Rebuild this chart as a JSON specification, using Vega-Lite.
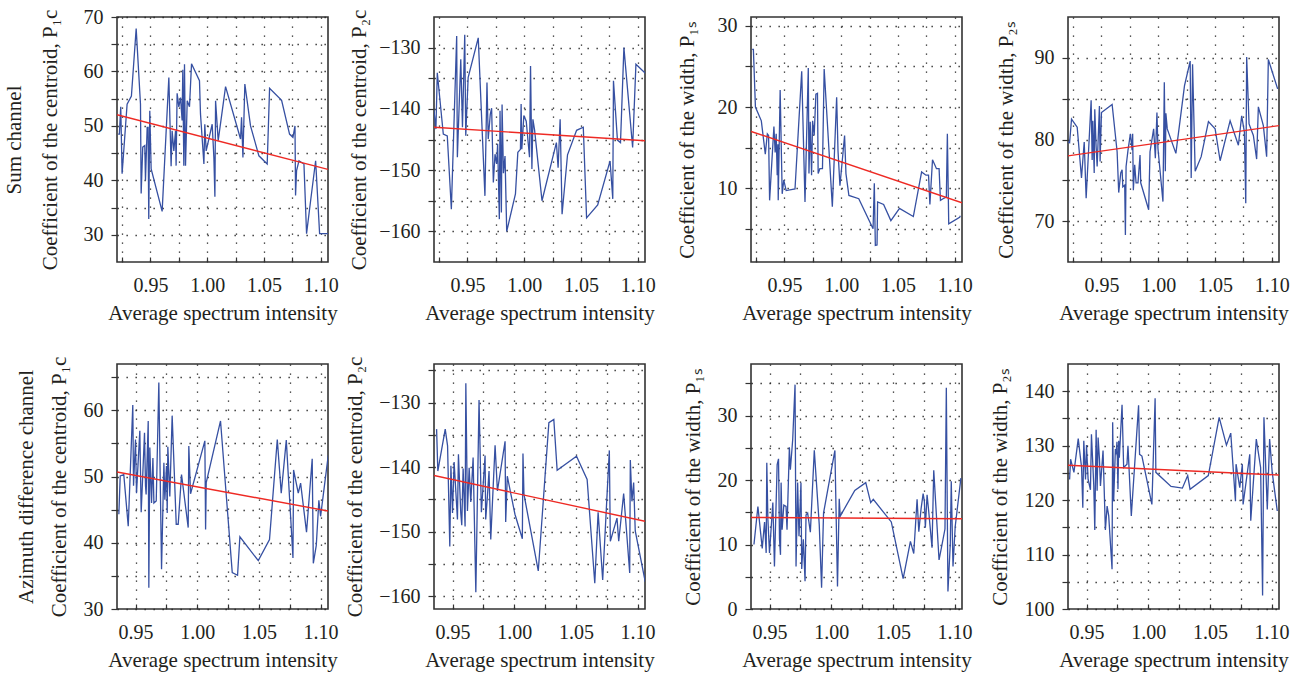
{
  "$schema": "https://vega.github.io/schema/vega-lite/v6.json",
  "padding": {"left": 2, "top": 6, "right": 10, "bottom": 6},
  "background": "white",
  "config": {
    "font": "Liberation Serif",
    "view": {"stroke": "#333333", "strokeWidth": 1.6},
    "axis": {
      "labelFont": "Liberation Serif", "titleFont": "Liberation Serif",
      "labelFontSize": 20, "titleFontSize": 21, "titleFontWeight": "normal",
      "labelColor": "#231f20", "titleColor": "#231f20",
      "domain": false, "grid": true, "gridColor": "#222222", "gridDash": [1.3, 7.7], "gridWidth": 1.3,
      "labelFlush": false, "labelOverlap": false, "tickColor": "#333333", "tickWidth": 1.2
    },
    "axisY": {"ticks": true, "tickSize": 6, "labelPadding": 8, "titleLineHeight": 36},
    "axisX": {"ticks": true, "tickSize": -5, "labelPadding": 18, "titlePadding": 7}
  },
  "datasets": {
    "p1": [{"x":0.9215,"y":48.5},{"x":0.9226,"y":48.5},{"x":0.9238,"y":53.5},{"x":0.925,"y":41.2},{"x":0.9294,"y":54.0},{"x":0.9332,"y":55.5},{"x":0.9374,"y":67.9},{"x":0.9412,"y":54.0},{"x":0.9418,"y":37.6},{"x":0.9432,"y":46.1},{"x":0.945,"y":46.4},{"x":0.9456,"y":40.0},{"x":0.9471,"y":49.7},{"x":0.9479,"y":49.7},{"x":0.9485,"y":32.9},{"x":0.9494,"y":52.8},{"x":0.9506,"y":42.1},{"x":0.9603,"y":34.3},{"x":0.9662,"y":58.9},{"x":0.9682,"y":42.6},{"x":0.9691,"y":49.1},{"x":0.9706,"y":45.4},{"x":0.9721,"y":49.1},{"x":0.9726,"y":42.7},{"x":0.9735,"y":56.0},{"x":0.975,"y":53.5},{"x":0.9765,"y":55.2},{"x":0.9779,"y":51.0},{"x":0.9785,"y":60.3},{"x":0.9794,"y":42.7},{"x":0.98,"y":61.3},{"x":0.9809,"y":42.7},{"x":0.9824,"y":54.6},{"x":0.9844,"y":53.5},{"x":0.9862,"y":61.4},{"x":0.9932,"y":58.3},{"x":0.9941,"y":52.2},{"x":0.9971,"y":43.0},{"x":0.9979,"y":50.3},{"x":0.9991,"y":45.4},{"x":1.0044,"y":50.3},{"x":1.0059,"y":44.2},{"x":1.0068,"y":37.0},{"x":1.0074,"y":54.6},{"x":1.0097,"y":47.3},{"x":1.0162,"y":57.2},{"x":1.0294,"y":47.6},{"x":1.0303,"y":51.6},{"x":1.0315,"y":44.2},{"x":1.0332,"y":57.7},{"x":1.0382,"y":50.0},{"x":1.0456,"y":44.5},{"x":1.0529,"y":43.0},{"x":1.055,"y":56.9},{"x":1.0656,"y":54.7},{"x":1.0726,"y":48.5},{"x":1.0756,"y":47.9},{"x":1.0774,"y":50.0},{"x":1.0779,"y":37.2},{"x":1.0788,"y":41.8},{"x":1.0809,"y":43.6},{"x":1.0853,"y":43.0},{"x":1.0876,"y":30.2},{"x":1.0912,"y":36.3},{"x":1.0956,"y":43.6},{"x":1.0991,"y":30.2},{"x":1.1068,"y":30.2}],
    "f1": [{"x":0.9205,"y":52.05},{"x":1.1065,"y":42.0}],
    "p2": [{"x":0.9204,"y":-140.1},{"x":0.9222,"y":-143.3},{"x":0.9234,"y":-134.1},{"x":0.9287,"y":-144.1},{"x":0.9322,"y":-144.4},{"x":0.9358,"y":-156.4},{"x":0.9405,"y":-128.1},{"x":0.9411,"y":-147.9},{"x":0.9441,"y":-131.9},{"x":0.9456,"y":-143.0},{"x":0.9476,"y":-127.9},{"x":0.9485,"y":-144.4},{"x":0.9506,"y":-134.9},{"x":0.9595,"y":-128.4},{"x":0.9654,"y":-154.2},{"x":0.9672,"y":-135.7},{"x":0.9683,"y":-144.9},{"x":0.9701,"y":-140.9},{"x":0.9713,"y":-139.9},{"x":0.9728,"y":-152.0},{"x":0.9743,"y":-147.4},{"x":0.9757,"y":-149.0},{"x":0.9766,"y":-145.7},{"x":0.9781,"y":-158.0},{"x":0.9787,"y":-140.3},{"x":0.9799,"y":-156.9},{"x":0.9805,"y":-139.3},{"x":0.9817,"y":-150.5},{"x":0.9831,"y":-147.7},{"x":0.9846,"y":-160.0},{"x":0.9923,"y":-153.9},{"x":0.9944,"y":-147.1},{"x":0.9967,"y":-146.6},{"x":0.9973,"y":-139.2},{"x":0.9979,"y":-146.6},{"x":0.9997,"y":-141.1},{"x":1.0018,"y":-142.0},{"x":1.0047,"y":-147.9},{"x":1.0056,"y":-133.0},{"x":1.0068,"y":-149.8},{"x":1.0077,"y":-141.7},{"x":1.0092,"y":-143.5},{"x":1.0157,"y":-155.0},{"x":1.0284,"y":-145.5},{"x":1.0299,"y":-149.6},{"x":1.0317,"y":-141.7},{"x":1.0334,"y":-157.2},{"x":1.0382,"y":-147.5},{"x":1.0462,"y":-143.5},{"x":1.0521,"y":-143.0},{"x":1.055,"y":-157.8},{"x":1.0648,"y":-155.7},{"x":1.0757,"y":-148.5},{"x":1.0781,"y":-154.7},{"x":1.0787,"y":-135.4},{"x":1.0822,"y":-145.1},{"x":1.0849,"y":-145.5},{"x":1.0879,"y":-130.0},{"x":1.0956,"y":-146.3},{"x":1.0985,"y":-132.7},{"x":1.1068,"y":-134.2}],
    "f2": [{"x":0.9205,"y":-143.0},{"x":1.1065,"y":-145.2}],
    "p3": [{"x":0.9215,"y":27.1},{"x":0.9226,"y":27.1},{"x":0.9244,"y":20.0},{"x":0.9296,"y":18.3},{"x":0.9331,"y":14.2},{"x":0.9349,"y":16.7},{"x":0.936,"y":16.5},{"x":0.9369,"y":8.5},{"x":0.9407,"y":17.6},{"x":0.9418,"y":14.4},{"x":0.9427,"y":16.7},{"x":0.9436,"y":11.6},{"x":0.9442,"y":15.4},{"x":0.9445,"y":8.5},{"x":0.9462,"y":22.1},{"x":0.948,"y":9.3},{"x":0.9494,"y":11.0},{"x":0.9515,"y":9.7},{"x":0.9593,"y":9.9},{"x":0.9652,"y":24.4},{"x":0.9681,"y":8.3},{"x":0.971,"y":24.8},{"x":0.9716,"y":11.8},{"x":0.9727,"y":18.2},{"x":0.9739,"y":11.6},{"x":0.9748,"y":18.3},{"x":0.9762,"y":16.5},{"x":0.9777,"y":21.6},{"x":0.9791,"y":21.7},{"x":0.9797,"y":11.8},{"x":0.9812,"y":12.4},{"x":0.9835,"y":12.4},{"x":0.985,"y":24.7},{"x":0.9922,"y":7.7},{"x":0.996,"y":21.2},{"x":0.9972,"y":14.6},{"x":0.9989,"y":10.3},{"x":1.003,"y":16.5},{"x":1.0042,"y":11.8},{"x":1.0068,"y":9.1},{"x":1.0155,"y":8.7},{"x":1.0281,"y":5.0},{"x":1.0292,"y":10.6},{"x":1.0301,"y":2.95},{"x":1.0316,"y":3.0},{"x":1.0321,"y":8.3},{"x":1.0374,"y":8.0},{"x":1.0438,"y":6.0},{"x":1.0514,"y":7.5},{"x":1.0636,"y":6.5},{"x":1.0709,"y":12.0},{"x":1.0747,"y":11.6},{"x":1.077,"y":11.6},{"x":1.0782,"y":8.0},{"x":1.0805,"y":13.5},{"x":1.084,"y":12.4},{"x":1.0863,"y":12.4},{"x":1.0875,"y":8.5},{"x":1.0898,"y":8.7},{"x":1.0927,"y":8.9},{"x":1.0936,"y":16.7},{"x":1.0948,"y":5.6},{"x":1.1044,"y":6.4},{"x":1.105,"y":6.6}],
    "f3": [{"x":0.9205,"y":17.0},{"x":1.1065,"y":8.2}],
    "p4": [{"x":0.9201,"y":79.7},{"x":0.9219,"y":79.6},{"x":0.9236,"y":82.5},{"x":0.9286,"y":81.5},{"x":0.9324,"y":75.3},{"x":0.9348,"y":79.7},{"x":0.9365,"y":72.8},{"x":0.9409,"y":84.8},{"x":0.9418,"y":77.5},{"x":0.9424,"y":82.3},{"x":0.9436,"y":75.9},{"x":0.9441,"y":83.7},{"x":0.9453,"y":79.1},{"x":0.9462,"y":76.7},{"x":0.9482,"y":84.1},{"x":0.9488,"y":77.3},{"x":0.95,"y":83.3},{"x":0.9594,"y":84.3},{"x":0.9638,"y":78.5},{"x":0.9652,"y":73.5},{"x":0.967,"y":75.9},{"x":0.9682,"y":76.3},{"x":0.9688,"y":74.2},{"x":0.9705,"y":74.4},{"x":0.9711,"y":68.3},{"x":0.9717,"y":76.7},{"x":0.9734,"y":78.7},{"x":0.9755,"y":80.7},{"x":0.977,"y":78.7},{"x":0.9775,"y":80.7},{"x":0.9781,"y":73.8},{"x":0.9793,"y":76.9},{"x":0.9805,"y":74.7},{"x":0.9822,"y":74.7},{"x":0.984,"y":78.1},{"x":0.9846,"y":74.7},{"x":0.9916,"y":71.4},{"x":0.9928,"y":78.5},{"x":0.996,"y":81.3},{"x":0.9975,"y":77.7},{"x":0.9989,"y":83.3},{"x":0.9998,"y":78.9},{"x":1.0042,"y":72.4},{"x":1.0054,"y":87.0},{"x":1.0063,"y":76.1},{"x":1.0068,"y":83.2},{"x":1.008,"y":81.3},{"x":1.0156,"y":78.3},{"x":1.0232,"y":86.6},{"x":1.0282,"y":89.6},{"x":1.0291,"y":75.3},{"x":1.0303,"y":89.2},{"x":1.0326,"y":76.1},{"x":1.0379,"y":77.9},{"x":1.0443,"y":82.2},{"x":1.0502,"y":81.3},{"x":1.0546,"y":77.4},{"x":1.0634,"y":82.3},{"x":1.0707,"y":79.3},{"x":1.0736,"y":82.9},{"x":1.076,"y":80.9},{"x":1.0772,"y":72.2},{"x":1.078,"y":90.1},{"x":1.0801,"y":81.9},{"x":1.0839,"y":80.5},{"x":1.0868,"y":77.6},{"x":1.0883,"y":84.0},{"x":1.0927,"y":81.7},{"x":1.0956,"y":77.9},{"x":1.0971,"y":89.8},{"x":1.1053,"y":86.2}],
    "f4": [{"x":0.9205,"y":78.0},{"x":1.1065,"y":81.7}],
    "p5": [{"x":0.9365,"y":44.3},{"x":0.9376,"y":50.1},{"x":0.9405,"y":50.3},{"x":0.9441,"y":42.5},{"x":0.9478,"y":60.8},{"x":0.9484,"y":48.6},{"x":0.95,"y":55.6},{"x":0.9508,"y":47.5},{"x":0.9535,"y":56.9},{"x":0.9546,"y":44.6},{"x":0.9573,"y":56.6},{"x":0.9581,"y":48.6},{"x":0.9586,"y":47.3},{"x":0.9603,"y":58.4},{"x":0.9608,"y":33.2},{"x":0.9616,"y":54.4},{"x":0.963,"y":46.0},{"x":0.9641,"y":52.8},{"x":0.9649,"y":46.0},{"x":0.9668,"y":46.3},{"x":0.9689,"y":64.2},{"x":0.9711,"y":36.0},{"x":0.973,"y":52.1},{"x":0.9738,"y":46.5},{"x":0.9751,"y":51.6},{"x":0.9757,"y":44.5},{"x":0.9762,"y":54.5},{"x":0.977,"y":50.8},{"x":0.9778,"y":47.0},{"x":0.9797,"y":59.2},{"x":0.983,"y":42.8},{"x":0.9846,"y":42.8},{"x":0.9873,"y":50.3},{"x":0.9927,"y":42.3},{"x":0.9932,"y":54.6},{"x":0.9946,"y":47.4},{"x":1.0062,"y":55.4},{"x":1.0068,"y":42.0},{"x":1.0073,"y":49.1},{"x":1.0189,"y":58.4},{"x":1.0284,"y":35.5},{"x":1.0327,"y":35.1},{"x":1.0346,"y":40.9},{"x":1.0495,"y":37.3},{"x":1.0586,"y":40.5},{"x":1.0649,"y":55.6},{"x":1.0681,"y":47.5},{"x":1.0722,"y":55.5},{"x":1.0776,"y":37.7},{"x":1.0781,"y":51.0},{"x":1.0819,"y":47.5},{"x":1.0838,"y":49.0},{"x":1.0886,"y":41.6},{"x":1.0932,"y":52.7},{"x":1.0941,"y":36.9},{"x":1.0965,"y":39.6},{"x":1.0986,"y":46.4},{"x":1.1,"y":44.0},{"x":1.1062,"y":53.2}],
    "f5": [{"x":0.935,"y":50.7},{"x":1.106,"y":44.8}],
    "p6": [{"x":0.9371,"y":-134.1},{"x":0.9381,"y":-140.6},{"x":0.9441,"y":-134.1},{"x":0.946,"y":-136.7},{"x":0.9478,"y":-152.3},{"x":0.9487,"y":-139.8},{"x":0.95,"y":-147.1},{"x":0.9513,"y":-139.2},{"x":0.954,"y":-148.1},{"x":0.9548,"y":-138.0},{"x":0.9567,"y":-147.1},{"x":0.9575,"y":-149.0},{"x":0.9586,"y":-140.2},{"x":0.9602,"y":-149.2},{"x":0.9608,"y":-127.0},{"x":0.9621,"y":-146.8},{"x":0.9635,"y":-140.1},{"x":0.9648,"y":-145.4},{"x":0.9667,"y":-138.5},{"x":0.9689,"y":-159.4},{"x":0.9715,"y":-129.6},{"x":0.9734,"y":-147.0},{"x":0.9764,"y":-138.2},{"x":0.9769,"y":-148.1},{"x":0.9783,"y":-144.5},{"x":0.9796,"y":-140.6},{"x":0.981,"y":-151.2},{"x":0.9845,"y":-136.6},{"x":0.9864,"y":-143.7},{"x":0.9926,"y":-136.0},{"x":0.9931,"y":-148.5},{"x":0.9944,"y":-141.4},{"x":1.0006,"y":-147.3},{"x":1.0066,"y":-151.1},{"x":1.0071,"y":-137.9},{"x":1.0079,"y":-144.2},{"x":1.0195,"y":-156.1},{"x":1.0281,"y":-133.1},{"x":1.0321,"y":-132.6},{"x":1.0348,"y":-140.5},{"x":1.0505,"y":-138.3},{"x":1.0591,"y":-141.9},{"x":1.0653,"y":-158.0},{"x":1.068,"y":-147.0},{"x":1.0717,"y":-157.5},{"x":1.0771,"y":-137.4},{"x":1.0779,"y":-151.5},{"x":1.0833,"y":-147.9},{"x":1.0847,"y":-151.5},{"x":1.0887,"y":-144.1},{"x":1.0936,"y":-156.4},{"x":1.0941,"y":-138.9},{"x":1.0954,"y":-145.3},{"x":1.0968,"y":-142.4},{"x":1.0981,"y":-149.9},{"x":1.1062,"y":-157.8}],
    "f6": [{"x":0.935,"y":-141.3},{"x":1.106,"y":-148.4}],
    "p7": [{"x":0.9374,"y":10.0},{"x":0.9406,"y":15.9},{"x":0.9441,"y":9.4},{"x":0.946,"y":13.5},{"x":0.9473,"y":8.7},{"x":0.9478,"y":22.7},{"x":0.9487,"y":13.9},{"x":0.95,"y":8.7},{"x":0.9527,"y":16.5},{"x":0.954,"y":6.6},{"x":0.9562,"y":22.4},{"x":0.9573,"y":23.3},{"x":0.9581,"y":10.8},{"x":0.9589,"y":8.4},{"x":0.9594,"y":19.6},{"x":0.9602,"y":12.3},{"x":0.9616,"y":16.1},{"x":0.9634,"y":15.9},{"x":0.9642,"y":12.3},{"x":0.9661,"y":25.1},{"x":0.9669,"y":21.6},{"x":0.9688,"y":26.3},{"x":0.9707,"y":34.8},{"x":0.9715,"y":6.6},{"x":0.9728,"y":19.6},{"x":0.9739,"y":11.3},{"x":0.9755,"y":19.6},{"x":0.9761,"y":6.2},{"x":0.9774,"y":10.8},{"x":0.9788,"y":4.3},{"x":0.9796,"y":14.6},{"x":0.9809,"y":14.9},{"x":0.9831,"y":11.9},{"x":0.9863,"y":24.6},{"x":0.9903,"y":13.1},{"x":0.9922,"y":3.3},{"x":0.9938,"y":14.9},{"x":1.003,"y":24.6},{"x":1.0051,"y":3.5},{"x":1.0065,"y":17.1},{"x":1.0073,"y":14.4},{"x":1.0191,"y":18.4},{"x":1.028,"y":19.6},{"x":1.032,"y":16.5},{"x":1.0341,"y":17.0},{"x":1.0487,"y":13.5},{"x":1.0583,"y":4.7},{"x":1.0642,"y":10.5},{"x":1.0669,"y":8.6},{"x":1.0696,"y":17.0},{"x":1.071,"y":12.0},{"x":1.0728,"y":15.5},{"x":1.0745,"y":17.9},{"x":1.0755,"y":16.7},{"x":1.0763,"y":12.6},{"x":1.0777,"y":17.7},{"x":1.079,"y":15.2},{"x":1.0817,"y":9.5},{"x":1.0831,"y":21.5},{"x":1.0874,"y":7.6},{"x":1.0898,"y":10.0},{"x":1.0922,"y":12.4},{"x":1.0933,"y":34.3},{"x":1.0946,"y":2.7},{"x":1.0965,"y":10.0},{"x":1.0973,"y":19.8},{"x":1.0987,"y":6.6},{"x":1.1005,"y":12.8},{"x":1.1051,"y":20.3}],
    "f7": [{"x":0.935,"y":14.2},{"x":1.106,"y":14.0}],
    "p8": [{"x":0.9363,"y":123.8},{"x":0.9371,"y":127.5},{"x":0.9398,"y":125.1},{"x":0.9433,"y":131.3},{"x":0.946,"y":126.0},{"x":0.947,"y":118.6},{"x":0.9478,"y":130.9},{"x":0.9492,"y":123.8},{"x":0.95,"y":130.1},{"x":0.9513,"y":123.8},{"x":0.9532,"y":121.9},{"x":0.954,"y":132.1},{"x":0.9559,"y":122.6},{"x":0.9567,"y":114.5},{"x":0.9578,"y":132.9},{"x":0.9586,"y":121.7},{"x":0.9594,"y":131.5},{"x":0.9605,"y":127.5},{"x":0.9613,"y":122.6},{"x":0.9634,"y":129.1},{"x":0.9653,"y":114.5},{"x":0.9667,"y":118.9},{"x":0.968,"y":117.1},{"x":0.9707,"y":107.3},{"x":0.9712,"y":134.3},{"x":0.972,"y":119.8},{"x":0.9734,"y":129.4},{"x":0.9739,"y":128.4},{"x":0.9747,"y":130.7},{"x":0.9755,"y":122.0},{"x":0.9761,"y":130.9},{"x":0.9766,"y":127.8},{"x":0.9788,"y":137.5},{"x":0.9801,"y":126.0},{"x":0.9828,"y":126.6},{"x":0.9836,"y":130.0},{"x":0.9863,"y":117.1},{"x":0.9922,"y":137.4},{"x":0.993,"y":128.4},{"x":0.9949,"y":128.1},{"x":1.003,"y":119.2},{"x":1.0056,"y":138.7},{"x":1.0062,"y":125.1},{"x":1.0185,"y":122.5},{"x":1.0277,"y":122.2},{"x":1.032,"y":124.5},{"x":1.0339,"y":122.0},{"x":1.0487,"y":124.5},{"x":1.0575,"y":135.2},{"x":1.0634,"y":130.1},{"x":1.0669,"y":132.3},{"x":1.0707,"y":119.8},{"x":1.0712,"y":126.6},{"x":1.0742,"y":122.3},{"x":1.0763,"y":126.6},{"x":1.0769,"y":119.2},{"x":1.0823,"y":128.4},{"x":1.0831,"y":116.2},{"x":1.0876,"y":131.2},{"x":1.0911,"y":126.0},{"x":1.0927,"y":102.5},{"x":1.0938,"y":135.2},{"x":1.0965,"y":118.3},{"x":1.0984,"y":131.2},{"x":1.1005,"y":125.1},{"x":1.1046,"y":118.0}],
    "f8": [{"x":0.935,"y":126.4},{"x":1.106,"y":124.6}]
  },
  "columns": 4,
  "bounds": "flush",
  "spacing": {"row": 102, "column": 106},
  "concat": [
    {
      "width": 211, "height": 245,
      "encoding": {
        "x": {"field": "x", "type": "quantitative", "scale": {"domain": [0.9205, 1.1065], "nice": false, "zero": false},
          "axis": {"title": "Average spectrum intensity", "values": [0.925, 0.95, 0.975, 1.0, 1.025, 1.05, 1.075, 1.1], "labelExpr": "round(datum.value*1000) % 50 === 0 ? format(datum.value, '.2f') : ''"}},
        "y": {"field": "y", "type": "quantitative", "scale": {"domain": [25, 70], "nice": false, "zero": false},
          "axis": {"title": ["Sum channel", "Coefficient of the centroid, P₁c"], "titlePadding": 23, "titleLineHeight": 36, "values": [30, 35, 40, 45, 50, 55, 60, 65, 70], "labelExpr": "datum.value % 10 === 0 ? datum.label : ''"}}
      },
      "layer": [
        {"data": {"name": "p1"}, "mark": {"type": "line", "color": "#3650a2", "strokeWidth": 1.3, "clip": true}},
        {"data": {"name": "f1"}, "mark": {"type": "line", "color": "#ee2a24", "strokeWidth": 1.4, "clip": true}}
      ]
    },
    {
      "width": 211, "height": 245,
      "encoding": {
        "x": {"field": "x", "type": "quantitative", "scale": {"domain": [0.9205, 1.1065], "nice": false, "zero": false},
          "axis": {"title": "Average spectrum intensity", "values": [0.925, 0.95, 0.975, 1.0, 1.025, 1.05, 1.075, 1.1], "labelExpr": "round(datum.value*1000) % 50 === 0 ? format(datum.value, '.2f') : ''"}},
        "y": {"field": "y", "type": "quantitative", "scale": {"domain": [-165, -125], "nice": false, "zero": false},
          "axis": {"title": "Coefficient of the centroid, P₂c", "titlePadding": 9, "values": [-160, -155, -150, -145, -140, -135, -130], "labelExpr": "datum.value % 10 === 0 ? datum.label : ''"}}
      },
      "layer": [
        {"data": {"name": "p2"}, "mark": {"type": "line", "color": "#3650a2", "strokeWidth": 1.3, "clip": true}},
        {"data": {"name": "f2"}, "mark": {"type": "line", "color": "#ee2a24", "strokeWidth": 1.4, "clip": true}}
      ]
    },
    {
      "width": 211, "height": 245,
      "encoding": {
        "x": {"field": "x", "type": "quantitative", "scale": {"domain": [0.9205, 1.1065], "nice": false, "zero": false},
          "axis": {"title": "Average spectrum intensity", "values": [0.925, 0.95, 0.975, 1.0, 1.025, 1.05, 1.075, 1.1], "labelExpr": "round(datum.value*1000) % 50 === 0 ? format(datum.value, '.2f') : ''"}},
        "y": {"field": "y", "type": "quantitative", "scale": {"domain": [0.9, 31.1], "nice": false, "zero": false},
          "axis": {"title": "Coefficient of the width, P₁ₛ", "titlePadding": 20, "values": [5, 10, 15, 20, 25, 30], "labelExpr": "datum.value % 10 === 0 ? datum.label : ''"}}
      },
      "layer": [
        {"data": {"name": "p3"}, "mark": {"type": "line", "color": "#3650a2", "strokeWidth": 1.3, "clip": true}},
        {"data": {"name": "f3"}, "mark": {"type": "line", "color": "#ee2a24", "strokeWidth": 1.4, "clip": true}}
      ]
    },
    {
      "width": 211, "height": 245,
      "encoding": {
        "x": {"field": "x", "type": "quantitative", "scale": {"domain": [0.9205, 1.1065], "nice": false, "zero": false},
          "axis": {"title": "Average spectrum intensity", "values": [0.925, 0.95, 0.975, 1.0, 1.025, 1.05, 1.075, 1.1], "labelExpr": "round(datum.value*1000) % 50 === 0 ? format(datum.value, '.2f') : ''"}},
        "y": {"field": "y", "type": "quantitative", "scale": {"domain": [65, 95], "nice": false, "zero": false},
          "axis": {"title": "Coefficient of the width, P₂ₛ", "titlePadding": 18, "values": [70, 75, 80, 85, 90], "labelExpr": "datum.value % 10 === 0 ? datum.label : ''"}}
      },
      "layer": [
        {"data": {"name": "p4"}, "mark": {"type": "line", "color": "#3650a2", "strokeWidth": 1.3, "clip": true}},
        {"data": {"name": "f4"}, "mark": {"type": "line", "color": "#ee2a24", "strokeWidth": 1.4, "clip": true}}
      ]
    },
    {
      "width": 211, "height": 245,
      "encoding": {
        "x": {"field": "x", "type": "quantitative", "scale": {"domain": [0.935, 1.106], "nice": false, "zero": false},
          "axis": {"title": "Average spectrum intensity", "values": [0.95, 0.975, 1.0, 1.025, 1.05, 1.075, 1.1], "labelExpr": "round(datum.value*1000) % 50 === 0 ? format(datum.value, '.2f') : ''"}},
        "y": {"field": "y", "type": "quantitative", "scale": {"domain": [30, 67], "nice": false, "zero": false},
          "axis": {"title": ["Azimuth difference channel", "Coefficient of the centroid, P₁c"], "titlePadding": 14, "titleLineHeight": 33, "values": [30, 35, 40, 45, 50, 55, 60, 65], "labelExpr": "datum.value % 10 === 0 ? datum.label : ''"}}
      },
      "layer": [
        {"data": {"name": "p5"}, "mark": {"type": "line", "color": "#3650a2", "strokeWidth": 1.3, "clip": true}},
        {"data": {"name": "f5"}, "mark": {"type": "line", "color": "#ee2a24", "strokeWidth": 1.4, "clip": true}}
      ]
    },
    {
      "width": 211, "height": 245,
      "encoding": {
        "x": {"field": "x", "type": "quantitative", "scale": {"domain": [0.935, 1.106], "nice": false, "zero": false},
          "axis": {"title": "Average spectrum intensity", "values": [0.95, 0.975, 1.0, 1.025, 1.05, 1.075, 1.1], "labelExpr": "round(datum.value*1000) % 50 === 0 ? format(datum.value, '.2f') : ''"}},
        "y": {"field": "y", "type": "quantitative", "scale": {"domain": [-162, -124], "nice": false, "zero": false},
          "axis": {"title": "Coefficient of the centroid, P₂c", "titlePadding": 13, "values": [-160, -155, -150, -145, -140, -135, -130, -125], "labelExpr": "datum.value % 10 === 0 ? datum.label : ''"}}
      },
      "layer": [
        {"data": {"name": "p6"}, "mark": {"type": "line", "color": "#3650a2", "strokeWidth": 1.3, "clip": true}},
        {"data": {"name": "f6"}, "mark": {"type": "line", "color": "#ee2a24", "strokeWidth": 1.4, "clip": true}}
      ]
    },
    {
      "width": 211, "height": 245,
      "encoding": {
        "x": {"field": "x", "type": "quantitative", "scale": {"domain": [0.935, 1.106], "nice": false, "zero": false},
          "axis": {"title": "Average spectrum intensity", "values": [0.95, 0.975, 1.0, 1.025, 1.05, 1.075, 1.1], "labelExpr": "round(datum.value*1000) % 50 === 0 ? format(datum.value, '.2f') : ''"}},
        "y": {"field": "y", "type": "quantitative", "scale": {"domain": [0, 38], "nice": false, "zero": false},
          "axis": {"title": "Coefficient of the width, P₁ₛ", "titlePadding": 14, "values": [0, 5, 10, 15, 20, 25, 30, 35], "labelExpr": "datum.value % 10 === 0 ? datum.label : ''"}}
      },
      "layer": [
        {"data": {"name": "p7"}, "mark": {"type": "line", "color": "#3650a2", "strokeWidth": 1.3, "clip": true}},
        {"data": {"name": "f7"}, "mark": {"type": "line", "color": "#ee2a24", "strokeWidth": 1.4, "clip": true}}
      ]
    },
    {
      "width": 211, "height": 245,
      "encoding": {
        "x": {"field": "x", "type": "quantitative", "scale": {"domain": [0.935, 1.106], "nice": false, "zero": false},
          "axis": {"title": "Average spectrum intensity", "values": [0.95, 0.975, 1.0, 1.025, 1.05, 1.075, 1.1], "labelExpr": "round(datum.value*1000) % 50 === 0 ? format(datum.value, '.2f') : ''"}},
        "y": {"field": "y", "type": "quantitative", "scale": {"domain": [100, 145], "nice": false, "zero": false},
          "axis": {"title": "Coefficient of the width, P₂ₛ", "titlePadding": 14, "values": [100, 105, 110, 115, 120, 125, 130, 135, 140], "labelExpr": "datum.value % 10 === 0 ? datum.label : ''"}}
      },
      "layer": [
        {"data": {"name": "p8"}, "mark": {"type": "line", "color": "#3650a2", "strokeWidth": 1.3, "clip": true}},
        {"data": {"name": "f8"}, "mark": {"type": "line", "color": "#ee2a24", "strokeWidth": 1.4, "clip": true}}
      ]
    }
  ]
}
